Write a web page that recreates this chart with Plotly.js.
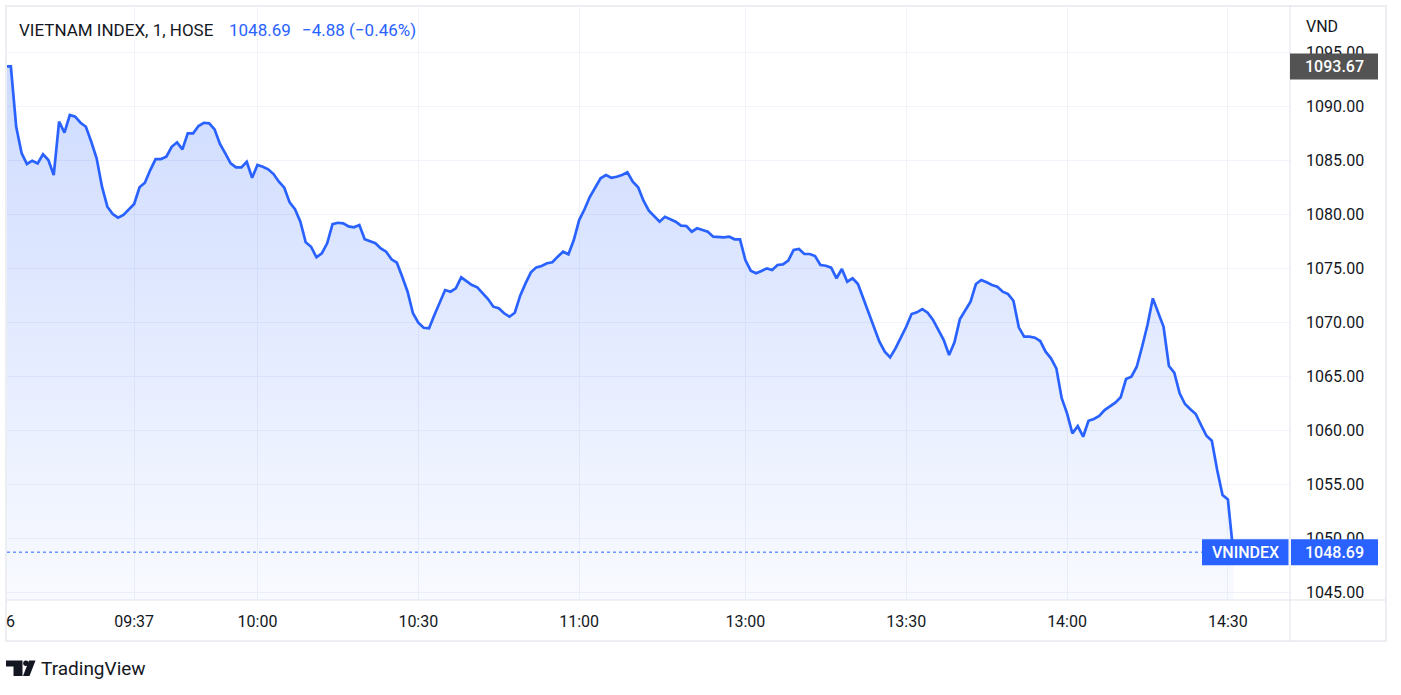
<!DOCTYPE html>
<html><head><meta charset="utf-8">
<script src="https://cdn.plot.ly/plotly-3.0.1.min.js"></script>
<style>html,body{margin:0;padding:0;background:#fff;} #chart{width:1401px;height:695px;}</style>
</head><body><div id="chart"></div>
<script>
const DAY = '2023-10-26';
const times = [
'09:13','09:14','09:15','09:16','09:17','09:18','09:19','09:20','09:21','09:22','09:23','09:24','09:25','09:26','09:27','09:28','09:29','09:30',
'09:31','09:32','09:33','09:34','09:35','09:36','09:37','09:38','09:39','09:40','09:41','09:42','09:43','09:44','09:45','09:46','09:47','09:48',
'09:49','09:50','09:51','09:52','09:53','09:54','09:55','09:56','09:57','09:58','09:59','10:00','10:01','10:02','10:03','10:04','10:05','10:06',
'10:07','10:08','10:09','10:10','10:11','10:12','10:13','10:14','10:15','10:16','10:17','10:18','10:19','10:20','10:22','10:23','10:24','10:25',
'10:26','10:27','10:28','10:29','10:30','10:31','10:32','10:33','10:34','10:35','10:36','10:37','10:38','10:39','10:40','10:41','10:42','10:43',
'10:44','10:45','10:46','10:47','10:48','10:49','10:50','10:51','10:52','10:53','10:54','10:55','10:56','10:57','10:58','10:59','11:00','11:01',
'11:02','11:03','11:04','11:05','11:06','11:07','11:08','11:09','11:10','11:11','11:12','11:13','11:14','11:15','11:16','11:17','11:18','11:19',
'11:20','11:21','11:22','11:23','11:24','11:25','11:26','11:27','11:28','11:29','11:30',
'13:00','13:01','13:02','13:03','13:04','13:05','13:06','13:07','13:08','13:09','13:10','13:11','13:12','13:13','13:14','13:15','13:16','13:17',
'13:18','13:19','13:20','13:21','13:22','13:23','13:24','13:25','13:26','13:27','13:28','13:29','13:30','13:31','13:32','13:33','13:34','13:35',
'13:36','13:37','13:38','13:39','13:40','13:41','13:42','13:43','13:44','13:45','13:46','13:47','13:48','13:49','13:50','13:51','13:52','13:53',
'13:54','13:55','13:56','13:57','13:58','13:59','14:00','14:01','14:02','14:03','14:04','14:05','14:06','14:07','14:08','14:09','14:10','14:11',
'14:12','14:13','14:14','14:15','14:16','14:17','14:18','14:19','14:20','14:21','14:22','14:23','14:24','14:25','14:26','14:27','14:28','14:29',
'14:30','14:45'
];
const closes = [
1093.67,1093.67,1088.08,1085.65,1084.63,1084.94,1084.69,1085.53,1085.00,1083.61,1088.55,1087.53,1089.17,1089.01,1088.45,1088.08,1086.69,1085.16,
1082.53,1080.68,1080.00,1079.66,1079.91,1080.44,1080.93,1082.47,1082.90,1084.07,1085.09,1085.09,1085.31,1086.23,1086.64,1085.99,1087.47,1087.47,
1088.15,1088.45,1088.40,1087.84,1086.48,1085.62,1084.69,1084.32,1084.32,1084.84,1083.36,1084.54,1084.38,1084.14,1083.70,1082.99,1082.44,1081.08,
1080.44,1079.29,1077.38,1076.97,1075.99,1076.36,1077.29,1079.07,1079.19,1079.14,1078.85,1078.77,1078.98,1077.66,1077.29,1076.82,1076.51,1075.81,
1075.49,1074.19,1072.81,1070.81,1069.94,1069.47,1069.42,1070.65,1071.73,1072.96,1072.81,1073.12,1074.14,1073.80,1073.43,1073.21,1072.71,1072.13,
1071.42,1071.27,1070.81,1070.49,1070.86,1072.44,1073.58,1074.60,1075.06,1075.19,1075.44,1075.53,1076.05,1076.51,1076.27,1077.59,1079.44,1080.44,
1081.60,1082.47,1083.31,1083.61,1083.36,1083.45,1083.61,1083.86,1082.99,1082.47,1081.23,1080.31,1079.75,1079.29,1079.75,1079.51,1079.29,1078.92,
1078.89,1078.36,1078.68,1078.52,1078.36,1077.90,1077.84,1077.84,1077.90,1077.66,1077.66,
1075.74,1074.75,1074.51,1074.72,1074.97,1074.81,1075.28,1075.34,1075.68,1076.67,1076.76,1076.30,1076.30,1076.11,1075.28,1075.21,1075.03,1074.05,
1074.91,1073.73,1074.05,1073.52,1072.19,1070.81,1069.56,1068.18,1067.25,1066.73,1067.56,1068.49,1069.56,1070.74,1070.90,1071.20,1070.86,1070.19,
1069.32,1068.33,1066.94,1068.12,1070.25,1071.11,1071.88,1073.52,1073.89,1073.68,1073.43,1073.27,1072.81,1072.59,1071.97,1069.51,1068.64,1068.64,
1068.55,1068.24,1067.25,1066.64,1065.71,1062.94,1061.55,1059.69,1060.37,1059.38,1060.86,1061.02,1061.30,1061.85,1062.22,1062.53,1063.03,1064.72,
1064.94,1065.86,1067.71,1069.72,1072.19,1070.95,1069.56,1065.93,1065.31,1063.40,1062.41,1061.92,1061.48,1060.46,1059.47,1059.01,1056.30,1053.98,
1053.57,1048.69
];
const tickTimes = ['09:37','10:00','10:30','11:00','13:00','13:30','14:00','14:30'];
const symbolTitle = 'VIETNAM INDEX, 1, HOSE';
const lastPriceText = '1048.69';
const changeText = '\u22124.88 (\u22120.46%)';
const lastPrice = 1048.69;
const refPrice = 1093.67;
const seriesLabel = 'VNINDEX';
const currency = 'VND';
const dateLabel = '6';

const W = 1401, H = 695, L = 7, R = 1290, T = 7, B = 600;
const pw = R - L, ph = B - T;
const px = v => (v - L) / pw;
const py = v => (B - v) / ph;
const FONT = 'Roboto, "Open Sans", sans-serif';
const TXT = '#131722', BLUE = '#2962ff';

const xs = times.map(t => DAY + ' ' + t);

const trace = {
  x: xs, y: closes, type: 'scatter', mode: 'lines',
  line: {color: BLUE, width: 2.7},
  fill: 'tozeroy',
  fillgradient: {type: 'vertical', start: 1044.26, stop: 1093.67,
    colorscale: [[0, 'rgba(41,98,255,0.03)'], [1, 'rgba(41,98,255,0.23)']]},
  hoverinfo: 'skip', showlegend: false
};

function P(xp, yp) { return xp + ',' + (H - yp); }
const logoPaths = [
  'M' + P(6, 660.5) + ' L' + P(22.5, 660.5) + ' L' + P(22.5, 676) + ' L' + P(13.5, 676) + ' L' + P(13.5, 666.5) + ' L' + P(6, 666.5) + ' Z',
  'M' + P(29, 660.5) + ' L' + P(35.5, 660.5) + ' L' + P(29.5, 676) + ' L' + P(23, 676) + ' Z'
];

const shapes = [
  {type: 'rect', xref: 'paper', yref: 'paper', x0: px(6), x1: px(1386), y0: py(641), y1: py(6),
   line: {color: '#eceef2', width: 2}, fillcolor: 'rgba(0,0,0,0)', layer: 'above'},
  {type: 'line', xref: 'paper', yref: 'paper', x0: 1, x1: 1, y0: py(641), y1: py(6),
   line: {color: '#e0e3eb', width: 1}, layer: 'above'},
  {type: 'line', xref: 'paper', yref: 'paper', x0: px(6), x1: px(1386), y0: 0, y1: 0,
   line: {color: '#e0e3eb', width: 1}, layer: 'above'},
  {type: 'line', xref: 'paper', yref: 'y', x0: 0, x1: px(1202), y0: lastPrice, y1: lastPrice,
   line: {color: BLUE, width: 1, dash: 'dot'}, layer: 'above'},
  {type: 'rect', xref: 'paper', yref: 'y', xsizemode: 'pixel', ysizemode: 'pixel', xanchor: 1, yanchor: lastPrice,
   x0: -88, x1: -1.5, y0: -13, y1: 13, fillcolor: BLUE, line: {width: 0}, layer: 'above'},
  {type: 'rect', xref: 'paper', yref: 'y', xsizemode: 'pixel', ysizemode: 'pixel', xanchor: 1, yanchor: lastPrice,
   x0: 1, x1: 88, y0: -13, y1: 13, fillcolor: BLUE, line: {width: 0}, layer: 'above'},
  {type: 'rect', xref: 'paper', yref: 'y', xsizemode: 'pixel', ysizemode: 'pixel', xanchor: 1, yanchor: refPrice,
   x0: 0, x1: 88, y0: -13, y1: 13, fillcolor: '#535353', line: {width: 0}, layer: 'above'},
  {type: 'path', xref: 'paper', yref: 'paper', xsizemode: 'pixel', ysizemode: 'pixel', xanchor: px(0), yanchor: py(H),
   path: logoPaths[0], fillcolor: TXT, line: {width: 0}},
  {type: 'path', xref: 'paper', yref: 'paper', xsizemode: 'pixel', ysizemode: 'pixel', xanchor: px(0), yanchor: py(H),
   path: logoPaths[1], fillcolor: TXT, line: {width: 0}},
  {type: 'circle', xref: 'paper', yref: 'paper', xsizemode: 'pixel', ysizemode: 'pixel', xanchor: px(0), yanchor: py(H),
   x0: 23.2, x1: 28.6, y0: H - 666, y1: H - 660.6, fillcolor: TXT, line: {width: 0}}
];

const ann = (o) => Object.assign({showarrow: false, xref: 'paper', yref: 'paper', xanchor: 'left', yanchor: 'middle',
  borderpad: 0}, o);
const annotations = [
  ann({x: px(18), y: py(30), text: symbolTitle, font: {family: FONT, size: 17, color: TXT}}),
  ann({x: px(228), y: py(30), text: lastPriceText, font: {family: FONT, size: 17, color: BLUE}}),
  ann({x: px(301), y: py(30), text: changeText, font: {family: FONT, size: 17, color: BLUE}}),
  ann({x: px(1305), y: py(27), text: currency, font: {family: FONT, size: 16, color: TXT}}),
  ann({x: px(5), y: py(621), text: dateLabel, font: {family: FONT, size: 16, color: TXT}}),
  ann({x: 1, xshift: -44.5, xanchor: 'center', yref: 'y', y: lastPrice, text: seriesLabel,
       font: {family: FONT, size: 16, color: '#ffffff', weight: 500}}),
  ann({x: 1, xshift: 44.5, xanchor: 'center', yref: 'y', y: lastPrice, text: lastPriceText,
       font: {family: FONT, size: 16, color: '#ffffff', weight: 500}}),
  ann({x: 1, xshift: 44, xanchor: 'center', yref: 'y', y: refPrice, text: refPrice.toFixed(2),
       font: {family: FONT, size: 16, color: '#ffffff', weight: 500}}),
  ann({x: px(40), y: py(668), text: 'TradingView', font: {family: FONT, size: 19, color: TXT}})
];

const layout = {
  width: W, height: H,
  margin: {l: L, r: W - R, t: T, b: H - B, pad: 0},
  paper_bgcolor: '#ffffff', plot_bgcolor: '#ffffff',
  showlegend: false, hovermode: false,
  xaxis: {
    type: 'date',
    range: [DAY + ' 09:13:17', DAY + ' 14:55:35'],
    rangebreaks: [
      {bounds: [DAY + ' 11:30:30', DAY + ' 12:59:30']},
      {bounds: [DAY + ' 14:30:30', DAY + ' 14:44:30']}
    ],
    tickmode: 'array', tickvals: tickTimes.map(t => DAY + ' ' + t), ticktext: tickTimes,
    showgrid: true, gridcolor: '#f0f3fa', gridwidth: 1, zeroline: false, showline: false, ticks: '',
    tickfont: {family: FONT, size: 16, color: TXT}, ticklabelstandoff: 10, fixedrange: true
  },
  yaxis: {
    side: 'right', range: [1044.26, 1099.17],
    tickmode: 'linear', tick0: 1045, dtick: 5, tickformat: '.2f',
    showgrid: true, gridcolor: '#f0f3fa', gridwidth: 1, zeroline: false, showline: false, ticks: '',
    tickfont: {family: FONT, size: 16, color: TXT}, ticklabelstandoff: 15, fixedrange: true
  },
  shapes: shapes,
  annotations: annotations
};

Plotly.newPlot('chart', [trace], layout, {displayModeBar: false, staticPlot: true});
</script>
</body></html>
